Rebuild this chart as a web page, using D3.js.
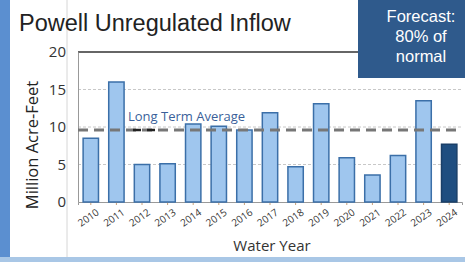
<!DOCTYPE html>
<html>
<head>
  <meta charset="utf-8">
  <title>Powell Unregulated Inflow</title>
  <style>
    body { margin: 0; background: #fff; font-family: "Open Sans", sans-serif; }
    svg { display: block; }
  </style>
</head>
<body>
  <div id="chart"></div>
  <script src="https://d3js.org/d3.v7.min.js"></script>
  <script>
    // data (million acre-feet)
    var years = ["2010", "2011", "2012", "2013", "2014", "2015", "2016", "2017",
      "2018", "2019", "2020", "2021", "2022", "2023", "2024"];
    var inflow = [8.5, 16.0, 5.0, 5.1, 10.4, 10.1, 9.6, 11.9, 4.7, 13.1, 5.9, 3.6, 6.2, 13.5, 7.7];
    var yTicks = [0, 5, 10, 15, 20];
    var longTermAvg = 9.6;

    var width = 465, height = 262;
    var margin = { top: 52, right: 3, bottom: 60, left: 78 };

    var svg = d3.select("#chart").append("svg")
      .attr("width", width)
      .attr("height", height);

    // frame bits: blue strip on the left, band at the bottom, thin divider
    svg.append("rect").attr("x", 0).attr("y", 0).attr("width", 10).attr("height", height)
      .attr("fill", "#5b8fd0");
    svg.append("rect").attr("x", 0).attr("y", 257).attr("width", width).attr("height", 5)
      .attr("fill", "#a9c7e6");
    svg.append("line").attr("x1", 67).attr("x2", 67).attr("y1", 0).attr("y2", 257)
      .attr("stroke", "#d6d6d6");

    var x = d3.scaleBand()
      .domain(years)
      .range([margin.left, width - margin.right])
      .paddingInner(0.4)
      .paddingOuter(0.2);

    var y = d3.scaleLinear()
      .domain([0, 20])
      .range([height - margin.bottom, margin.top]);

    // gridlines
    svg.append("g").selectAll("line")
      .data(yTicks.filter(function (d) { return d > 0 && d < 20; }))
      .enter().append("line")
      .attr("x1", margin.left).attr("x2", width - margin.right)
      .attr("y1", function (d) { return y(d); })
      .attr("y2", function (d) { return y(d); })
      .attr("stroke", "#c8c8c8")
      .attr("stroke-dasharray", "3,2");

    // top border line
    svg.append("line")
      .attr("x1", margin.left).attr("x2", width - margin.right)
      .attr("y1", y(20)).attr("y2", y(20))
      .attr("stroke", "#333").attr("stroke-width", 1.5);

    // y axis
    var yAxis = svg.append("g")
      .attr("transform", "translate(" + margin.left + ",0)")
      .call(d3.axisLeft(y).tickValues(yTicks).tickSize(0).tickPadding(12));
    yAxis.select(".domain").attr("stroke", "#999");
    yAxis.selectAll("text").attr("font-size", "15px").attr("fill", "#333")
      .attr("font-family", "Open Sans, sans-serif");

    // x axis
    var xAxis = svg.append("g")
      .attr("transform", "translate(0," + y(0) + ")")
      .call(d3.axisBottom(x).tickSize(3).tickPadding(4));
    xAxis.select(".domain").attr("stroke", "#999");
    xAxis.selectAll(".tick line").attr("stroke", "#c9a27a");
    xAxis.selectAll("text")
      .attr("font-size", "10px").attr("fill", "#333")
      .attr("font-family", "Open Sans, sans-serif")
      .attr("text-anchor", "end")
      .attr("x", 0).attr("y", 0).attr("dy", "0.35em")
      .attr("transform", "translate(7,9) rotate(-35)");

    // bars
    svg.append("g").selectAll("rect")
      .data(inflow)
      .enter().append("rect")
      .attr("x", function (d, i) { return x(years[i]); })
      .attr("width", x.bandwidth())
      .attr("y", function (d) { return y(d); })
      .attr("height", function (d) { return y(0) - y(d); })
      .attr("fill", function (d, i) { return i === years.length - 1 ? "#1f4e80" : "#9fc6ee"; })
      .attr("stroke", function (d, i) { return i === years.length - 1 ? "#1a3f68" : "#3b6fa8"; })
      .attr("stroke-width", 1.5);

    // long term average
    svg.append("line")
      .attr("x1", margin.left).attr("x2", width - margin.right)
      .attr("y1", y(longTermAvg)).attr("y2", y(longTermAvg))
      .attr("stroke", "#777").attr("stroke-width", 3)
      .attr("stroke-dasharray", "10,6");
    svg.append("line")
      .attr("x1", 133).attr("x2", 161)
      .attr("y1", y(longTermAvg)).attr("y2", y(longTermAvg))
      .attr("stroke", "#222").attr("stroke-width", 2.5)
      .attr("stroke-dasharray", "8,6");
    svg.append("text")
      .attr("x", 128).attr("y", y(longTermAvg) - 9)
      .attr("font-size", "13px").attr("fill", "#3a5f9a")
      .text("Long Term Average");

    // title
    svg.append("text")
      .attr("x", 19).attr("y", 31)
      .attr("font-size", "23.5px").attr("fill", "#222")
      .attr("font-family", "Liberation Sans, Arial, sans-serif")
      .text("Powell Unregulated Inflow");

    // axis titles
    svg.append("text")
      .attr("transform", "translate(38,145) rotate(-90)")
      .attr("text-anchor", "middle")
      .attr("font-size", "16.5px").attr("fill", "#222")
      .text("Million Acre-Feet");
    svg.append("text")
      .attr("x", 272).attr("y", 251)
      .attr("text-anchor", "middle")
      .attr("font-size", "15px").attr("fill", "#333")
      .text("Water Year");

    // forecast box
    svg.append("rect")
      .attr("x", 358).attr("y", 0).attr("width", width - 358).attr("height", 78)
      .attr("fill", "#2f5a8c");
    var fc = svg.append("text")
      .attr("text-anchor", "middle")
      .attr("font-size", "16.5px").attr("fill", "#fff")
      .attr("font-family", "Liberation Sans, Arial, sans-serif");
    ["Forecast:", "80% of", "normal"].forEach(function (t, i) {
      fc.append("tspan").attr("x", 421).attr("y", 22 + i * 20).text(t);
    });
  </script>
</body>
</html>
